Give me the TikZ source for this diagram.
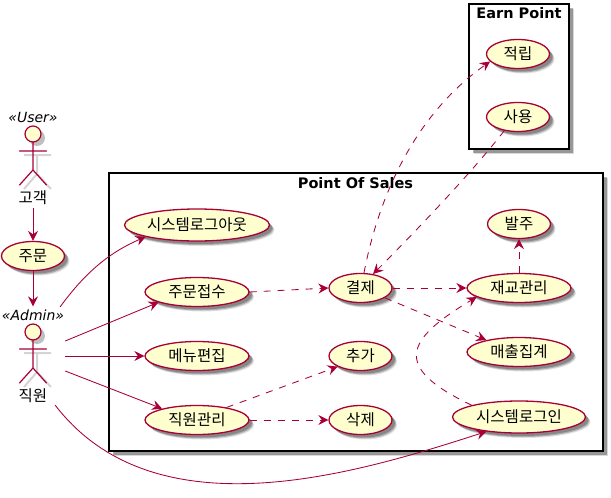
\documentclass[tikz,border=0pt]{standalone}
\usepackage{fontspec}
\setmainfont{DejaVu Sans}
\newfontfamily\krfont{Noto Sans CJK KR}
\usetikzlibrary{arrows.meta,shadows,calc,shapes.geometric}
\definecolor{umlline}{HTML}{A80036}
\definecolor{umlfill}{HTML}{FEFECE}
\tikzset{
  softshadow/.style={drop shadow={shadow xshift=5pt,shadow yshift=-5pt,fill=black,opacity=.12},
                     drop shadow={shadow xshift=4pt,shadow yshift=-4pt,fill=black,opacity=.22},
                     drop shadow={shadow xshift=3pt,shadow yshift=-3pt,fill=black,opacity=.22}},
  usecase/.style={shape=ellipse,draw=umlline,fill=umlfill,line width=1.3pt,inner sep=0pt,
                  minimum height=29pt,softshadow,font=\krfont\fontsize{15.5}{17}\selectfont,text=black},
  syslabel/.style={font=\bfseries\fontsize{14.5}{16}\selectfont,text=black,inner sep=0pt},
  sysbox/.style={draw=black,fill=white,line width=1.5pt,inner sep=0pt,
                 drop shadow={shadow xshift=5pt,shadow yshift=-5pt,fill=black,opacity=.15},
                 drop shadow={shadow xshift=3.5pt,shadow yshift=-3.5pt,fill=black,opacity=.3}},
  solidlink/.style={color=umlline,line width=.85pt,-{Stealth[length=10pt,width=10pt,inset=3.5pt,fill=umlline]}},
  dashlink/.style={solidlink,dash pattern=on 7pt off 7pt},
  actorline/.style={draw=umlline,line width=1.2pt,line cap=round},
  actorshade/.style={draw=black!17,line width=2pt},
  actorname/.style={font=\krfont\fontsize{15.5}{17}\selectfont,text=black,inner sep=0pt},
  stereo/.style={font=\itshape\fontsize{14}{16}\selectfont,text=black,inner sep=0pt},
  actorzone/.style={shape=rectangle,inner sep=0pt,minimum width=64pt,minimum height=100pt},
}
\newcommand{\stickman}[2]{%
  \draw[actorshade] (#1+4,#2+21) -- (#1+4,#2+40) (#1-9,#2+21) -- (#1+18,#2+21)
     (#1+4,#2+40) -- (#1-9,#2+55) (#1+4,#2+40) -- (#1+18,#2+55);
  \fill[black!25] (#1+4,#2+4) circle (8pt);
  \draw[actorline,fill=umlfill] (#1,#2) circle (8pt);
  \draw[actorline] (#1,#2+8) -- (#1,#2+36) (#1-13.5,#2+17) -- (#1+13.5,#2+17)
     (#1,#2+36) -- (#1-13.5,#2+51) (#1,#2+36) -- (#1+13.5,#2+51);
}
\begin{document}
\begin{tikzpicture}[x=1pt,y=-1pt]
\useasboundingbox (0,0) rectangle (611,498);

% systems
\node[sysbox,minimum width=100pt,minimum height=145pt] (earn) at (519,76.5) {};
\node[sysbox,minimum width=494pt,minimum height=278pt] (pos) at (356,312) {};
\node[syslabel] (earnt) at (519,13) {Earn Point};
\node[syslabel] (post) at (355.5,183) {Point Of Sales};

% use cases
\node[usecase,minimum width=63pt] (jeok) at (518,54) {적립};
\node[usecase,minimum width=63pt] (sayong) at (518,117) {사용};
\node[usecase,minimum width=63pt] (balju) at (519,224) {발주};
\node[usecase,minimum width=63pt] (gyeol) at (360.5,288) {결제};
\node[usecase,minimum width=104pt] (jaego) at (519,288) {재교관리};
\node[usecase,minimum width=104pt] (maechul) at (519,352) {매출집계};
\node[usecase,minimum width=133pt,minimum height=32pt] (login) at (519,417) {시스템로그인};
\node[usecase,minimum width=63pt] (chuga) at (360.5,356) {추가};
\node[usecase,minimum width=63pt] (sakje) at (360.5,420) {삭제};
\node[usecase,minimum width=104pt] (jikwon) at (197,420) {직원관리};
\node[usecase,minimum width=104pt] (menu) at (197,356) {메뉴편집};
\node[usecase,minimum width=104pt] (jumun) at (197,292) {주문접수};
\node[usecase,minimum width=145pt,minimum height=32pt] (logout) at (197,225) {시스템로그아웃};
\node[usecase,minimum width=63pt] (order) at (33,256) {주문};

% actors
\stickman{33}{134}
\stickman{33}{332}
\node[stereo] (userst) at (33,117) {«User»};
\node[actorname] (customer) at (33,198) {고객};
\node[stereo] (adminst) at (33,315) {«Admin»};
\node[actorname] (staff) at (33,396) {직원};
\node[actorzone] (admin) at (33,356) {};

% solid links
\draw[solidlink] ([yshift=-3pt]customer.south) -- (order);
\draw[solidlink] (order) -- ([yshift=3pt]adminst.north);
\draw[solidlink] ($(admin.north east)+(-5,1)$) .. controls +(22,-30) and +(-40,17) .. (logout.193);
\draw[solidlink] ($(admin.east)+(0,-15)$) -- (jumun.195);
\draw[solidlink] (admin.east) -- (menu.west);
\draw[solidlink] ($(admin.east)+(0,15)$) -- (jikwon.162);
\draw[solidlink] ($(admin.south east)+(-10,-1)$) .. controls +(100,130) and +(-130,42) .. (login.204);

% dashed links
\draw[dashlink] (jumun.east) -- (gyeol.west);
\draw[dashlink] (gyeol.east) -- (jaego.west);
\draw[dashlink] (jaego.north) -- (balju.south);
\draw[dashlink] (gyeol.-22) -- (maechul.160);
\draw[dashlink] (jikwon.23) -- (chuga.205);
\draw[dashlink] (jikwon.east) -- (sakje.west);
\draw[dashlink] (gyeol.77) .. controls +(16,-83) and +(-72,51) .. (jeok.195);
\draw[dashlink] (sayong.225) .. controls +(-35,45) and +(35,-35) .. (gyeol.48);
\draw[dashlink] (login.166) .. controls +(-80,-38) and +(-72,43) .. (jaego.192);
\end{tikzpicture}
\end{document}
